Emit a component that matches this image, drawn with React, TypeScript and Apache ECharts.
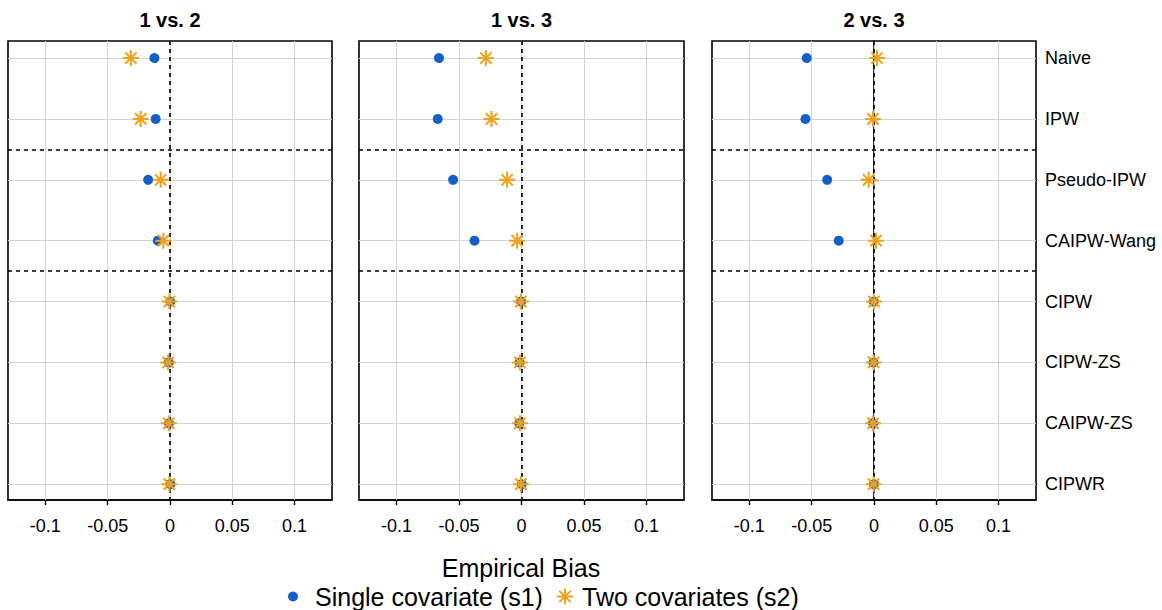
import React, { useEffect, useRef } from "react";
import * as echarts from "echarts";

// Methods (top to bottom) and the three pairwise comparisons
const categories = ["Naive", "IPW", "Pseudo-IPW", "CAIPW-Wang", "CIPW", "CIPW-ZS", "CAIPW-ZS", "CIPWR"];
const panels = ["1 vs. 2", "1 vs. 3", "2 vs. 3"];
const xTicks = [-0.1, -0.05, 0, 0.05, 0.1];
const xTickLabels = ["-0.1", "-0.05", "0", "0.05", "0.1"];

// Empirical bias, single covariate (s1)
const s1_12 = [-0.0125, -0.0115, -0.0175, -0.0098, 0.0003, -0.001, -0.0008, 0.0003];
const s1_13 = [-0.066, -0.067, -0.0547, -0.0376, -0.0003, -0.0015, -0.0018, 0.0002];
const s1_23 = [-0.054, -0.055, -0.0376, -0.0283, -0.0002, -0.0005, -0.0008, 0.0];
// Empirical bias, two covariates (s2)
const s2_12 = [-0.0314, -0.0235, -0.0075, -0.0053, -0.0005, -0.0015, -0.001, -0.0005];
const s2_13 = [-0.0285, -0.024, -0.0115, -0.0035, -0.0005, -0.0013, -0.0013, -0.0005];
const s2_23 = [0.0024, -0.0008, -0.0043, 0.0016, 0.0, -0.0003, -0.0008, -0.0003];

const s1Values = [s1_12, s1_13, s1_23];
const s2Values = [s2_12, s2_13, s2_23];
const groupBreaks = [2.5, 4.5];

const S1_NAME = "Single covariate (s1)";
const S2_NAME = "Two covariates (s2)";
const BLUE = "#155FC6";
const ORANGE = "#EFA11C";
const FONT = "Liberation Sans, Arial, Helvetica, sans-serif";
const STAR =
  "path://M10 0 L10 20 M0 10 L20 10 M2.93 2.93 L17.07 17.07 M2.93 17.07 L17.07 2.93";

const gridBoxes = [
  { left: 8, width: 324 },
  { left: 359, width: 325 },
  { left: 712, width: 324 },
];
const GRID_TOP = 41;
const GRID_HEIGHT = 459;

export default function App() {
  const ref = useRef<HTMLDivElement>(null);

  useEffect(() => {
    if (!ref.current) return;
    const chart = echarts.init(ref.current, undefined, { renderer: "svg" });

    const grid = gridBoxes.map((g) => ({
      left: g.left,
      width: g.width,
      top: GRID_TOP,
      height: GRID_HEIGHT,
      show: true,
      borderColor: "#000",
      borderWidth: 1.6,
      backgroundColor: "#fff",
    }));

    const xAxis = panels.map((_, i) => ({
      gridIndex: i,
      type: "value",
      min: -0.13,
      max: 0.13,
      axisLine: { show: true, lineStyle: { color: "#000", width: 1.6 } },
      axisTick: {
        show: true,
        customValues: xTicks,
        length: 5,
        lineStyle: { color: "#000", width: 1.4 },
      },
      axisLabel: {
        customValues: xTicks,
        formatter: (v: number) => xTickLabels[xTicks.findIndex((t) => Math.abs(t - v) < 1e-9)] ?? "",
        fontSize: 18,
        margin: 17,
        color: "#000",
        fontFamily: FONT,
      },
      splitLine: { show: false },
    }));

    const yTicks = categories.map((_, k) => k + 1);
    const yAxis = panels.map((_, i) => ({
      gridIndex: i,
      type: "value",
      inverse: true,
      min: 0.72,
      max: 8.26,
      position: "right",
      show: i === panels.length - 1,
      axisLine: { show: true, lineStyle: { color: "#000", width: 1.6 } },
      axisTick: {
        show: true,
        customValues: yTicks,
        length: 5,
        lineStyle: { color: "#000", width: 1.4 },
      },
      axisLabel: {
        customValues: yTicks,
        formatter: (v: number) => categories[Math.round(v) - 1] ?? "",
        fontSize: 18,
        margin: 9,
        color: "#000",
        fontFamily: FONT,
      },
      splitLine: { show: false },
    }));

    const series: any[] = [];
    panels.forEach((_, i) => {
      // reference lines: light grid, zero line, group separators
      series.push({
        type: "scatter",
        xAxisIndex: i,
        yAxisIndex: i,
        data: [],
        silent: true,
        markLine: {
          silent: true,
          symbol: "none",
          label: { show: false },
          animation: false,
          data: [
            ...xTicks.map((v) => ({ xAxis: v, lineStyle: { color: "#d4d4d4", width: 1, type: "solid" } })),
            ...yTicks.map((v) => ({ yAxis: v, lineStyle: { color: "#d4d4d4", width: 1, type: "solid" } })),
            { xAxis: 0, lineStyle: { color: "#000", width: 1.6, type: [4, 4] } },
            ...groupBreaks.map((v) => ({ yAxis: v, lineStyle: { color: "#000", width: 1.6, type: [4, 4] } })),
          ],
        },
      });
      series.push({
        type: "scatter",
        name: S1_NAME,
        xAxisIndex: i,
        yAxisIndex: i,
        z: 10,
        symbol: "circle",
        symbolSize: 10,
        itemStyle: { color: BLUE, opacity: 1 },
        data: s1Values[i].map((v, k) => [v, k + 1]),
      });
      series.push({
        type: "scatter",
        name: S2_NAME,
        xAxisIndex: i,
        yAxisIndex: i,
        z: 11,
        symbol: STAR,
        symbolSize: 16,
        itemStyle: { color: ORANGE, borderColor: ORANGE, borderWidth: 2, opacity: 1 },
        data: s2Values[i].map((v, k) => [v, k + 1]),
      });
    });

    const title: any[] = panels.map((p, i) => ({
      text: p,
      left: gridBoxes[i].left + gridBoxes[i].width / 2,
      textAlign: "center",
      top: 10,
      padding: 0,
      textStyle: { fontSize: 20, fontWeight: "bold", color: "#000", fontFamily: FONT },
    }));
    title.push({
      text: "Empirical Bias",
      left: 521,
      textAlign: "center",
      top: 555,
      padding: 0,
      textStyle: { fontSize: 25, fontWeight: "normal", color: "#000", fontFamily: FONT },
    });

    chart.setOption({
      animation: false,
      backgroundColor: "#fff",
      title,
      grid,
      xAxis,
      yAxis,
      legend: [
        {
          data: [{ name: S1_NAME, icon: "circle" }],
          left: 288,
          top: 584,
          padding: 0,
          itemWidth: 10,
          itemHeight: 10,
          itemStyle: { opacity: 1 },
          textStyle: { fontSize: 25, color: "#000", fontFamily: FONT, padding: [0, 0, 0, 12] },
          selectedMode: false,
        },
        {
          data: [{ name: S2_NAME, icon: STAR }],
          left: 556,
          top: 584,
          padding: 0,
          itemWidth: 16,
          itemHeight: 16,
          itemStyle: { borderColor: ORANGE, borderWidth: 2, opacity: 1 },
          textStyle: { fontSize: 25, color: "#000", fontFamily: FONT, padding: [0, 0, 0, 4] },
          selectedMode: false,
        },
      ],
      series,
    });

    return () => chart.dispose();
  }, []);

  return (
    <div
      ref={ref}
      style={{ position: "absolute", left: 0, top: 0, width: 1162, height: 610 }}
    />
  );
}
